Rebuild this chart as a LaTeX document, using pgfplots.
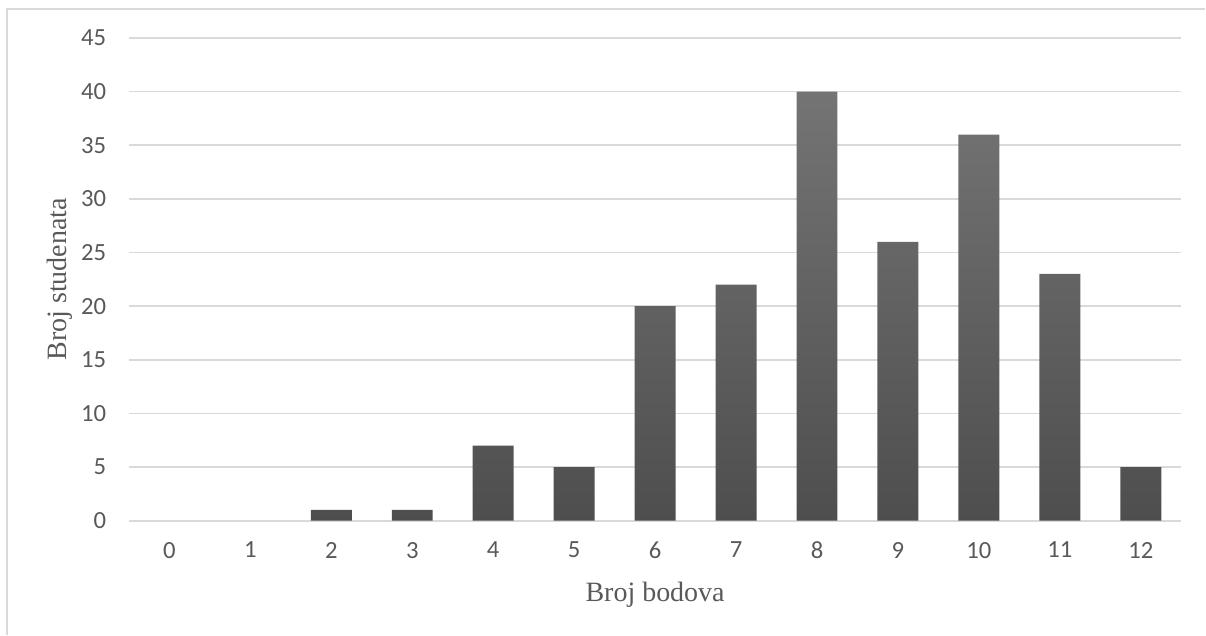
\documentclass[border=0pt]{standalone}
\usepackage{pgfplots}
\pgfplotsset{compat=1.18}
\usepackage{fontspec}
\setmainfont{Carlito}
\newfontfamily\tnr{Liberation Serif}
\definecolor{txt}{HTML}{595959}
\definecolor{gridc}{HTML}{D9D9D9}
\definecolor{barTop}{HTML}{747474}
\definecolor{barBot}{HTML}{4E4E4E}
\begin{document}
\begin{tikzpicture}
\path (0,0) rectangle (904.5pt,476.25pt);
\draw[gridc, line width=1.1pt] (5.25pt,0) -- (5.25pt,469.5pt) -- (904.5pt,469.5pt);
\begin{axis}[
  at={(96.75pt,85.5pt)}, anchor=south west,
  scale only axis, width=789.75pt, height=362.25pt,
  xmin=-0.5, xmax=12.5, ymin=0, ymax=45,
  xtick={0,...,12}, ytick={0,5,...,45},
  ymajorgrids, grid style={gridc, line width=1.3pt},
  axis line style={draw=none},
  major tick length=0pt,
  /pgf/number format/assume math mode=true,
  ticklabel style={font=\fontsize{18.5}{18.5}\selectfont, text=txt},
  xticklabel style={yshift=-12.5pt},
  yticklabel style={xshift=-13.5pt},
  xlabel={Broj bodova}, ylabel={Broj studenata},
  label style={font=\tnr\fontsize{21}{21}\selectfont, text=txt},
  xlabel style={at={(axis description cs:0.5,-0.168)}, anchor=base},
  ylabel style={at={(axis description cs:-0.0589,0.5)}, anchor=base},
  bar width=30.75pt,
]
\addplot[ybar, draw=none, top color=barTop, bottom color=barBot,
  y filter/.expression={y==0 ? nan : y}] coordinates {
(0,0) (1,0) (2,1) (3,1) (4,7) (5,5) (6,20) (7,22) (8,40) (9,26) (10,36) (11,23) (12,5)
};
\end{axis}
\end{tikzpicture}
\end{document}
